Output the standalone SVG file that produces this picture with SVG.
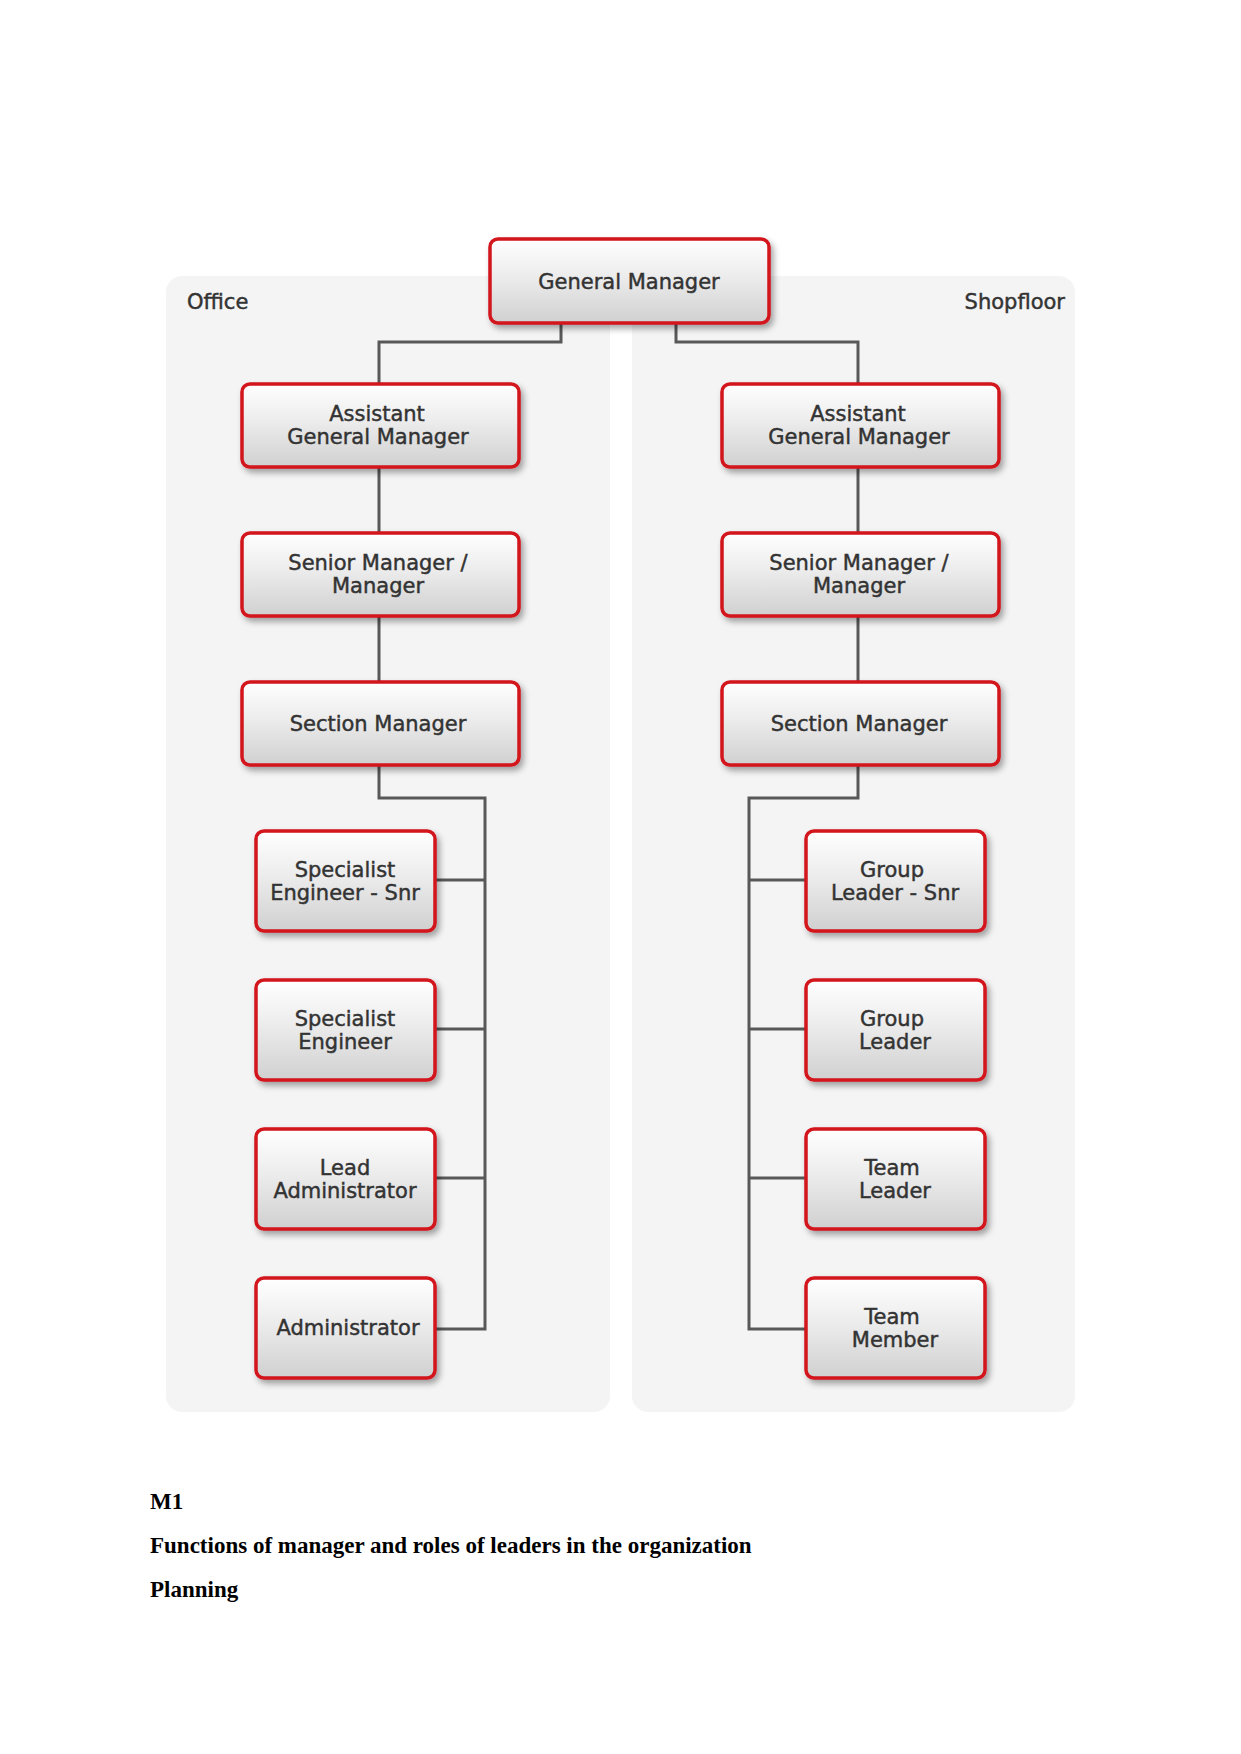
<svg xmlns="http://www.w3.org/2000/svg" width="1241" height="1754" viewBox="0 0 1241 1754">
<defs>
<linearGradient id="boxg" x1="0" y1="0" x2="0" y2="1">
<stop offset="0" stop-color="#ffffff"/>
<stop offset="0.45" stop-color="#ececec"/>
<stop offset="1" stop-color="#d0d0d0"/>
</linearGradient>
<filter id="sh" x="-10%" y="-10%" width="125%" height="130%">
<feDropShadow dx="3" dy="4" stdDeviation="3" flood-color="#000" flood-opacity="0.35"/>
</filter>
</defs>
<style>
.panel{fill:#f4f4f4}
.box{fill:url(#boxg);stroke:#d2141c;stroke-width:3.5;filter:url(#sh)}
.t{font-family:"DejaVu Sans",Verdana,sans-serif;font-size:21px;fill:#333333;stroke:#333333;stroke-width:0.45;text-anchor:middle}
.lbl{font-family:"DejaVu Sans",Verdana,sans-serif;font-size:21px;fill:#333333;stroke:#333333;stroke-width:0.45}
.conn{fill:none;stroke:#585858;stroke-width:3}
.doc{font-family:"Liberation Serif","Times New Roman",serif;font-size:23px;font-weight:bold;fill:#000}
</style>
<rect width="1241" height="1754" fill="#ffffff"/>
<rect class="panel" x="166" y="276" width="444" height="1136" rx="16"/>
<rect class="panel" x="632" y="276" width="443" height="1136" rx="16"/>
<text class="lbl" x="187" y="309">Office</text>
<text class="lbl" x="1065" y="309" text-anchor="end">Shopfloor</text>
<g id="connectors">
<path class="conn" d="M561 323 V342 H379 V384"/>
<path class="conn" d="M676 323 V342 H858 V384"/>
<path class="conn" d="M379 467 V533"/>
<path class="conn" d="M379 616 V682"/>
<path class="conn" d="M858 467 V533"/>
<path class="conn" d="M858 616 V682"/>
<path class="conn" d="M379 765 V798 H485 V1329 H435"/>
<path class="conn" d="M435 880 H485 M435 1029 H485 M435 1178 H485"/>
<path class="conn" d="M858 765 V798 H749 V1329 H806"/>
<path class="conn" d="M749 880 H806 M749 1029 H806 M749 1178 H806"/>
</g>
<g id="gm"><rect class="box" x="490" y="239" width="279" height="84" rx="8"/><text class="t" x="629" y="289">General Manager</text></g>
<g id="office-agm"><rect class="box" x="242" y="384" width="277" height="83" rx="8"/><text class="t" x="377" y="421">Assistant</text><text class="t" x="378" y="444">General Manager</text></g>
<g id="office-senior"><rect class="box" x="242" y="533" width="277" height="83" rx="8"/><text class="t" x="378" y="570">Senior Manager /</text><text class="t" x="378" y="593">Manager</text></g>
<g id="office-section"><rect class="box" x="242" y="682" width="277" height="83" rx="8"/><text class="t" x="378" y="731">Section Manager</text></g>
<g id="shop-agm"><rect class="box" x="722" y="384" width="277" height="83" rx="8"/><text class="t" x="858" y="421">Assistant</text><text class="t" x="859" y="444">General Manager</text></g>
<g id="shop-senior"><rect class="box" x="722" y="533" width="277" height="83" rx="8"/><text class="t" x="859" y="570">Senior Manager /</text><text class="t" x="859" y="593">Manager</text></g>
<g id="shop-section"><rect class="box" x="722" y="682" width="277" height="83" rx="8"/><text class="t" x="859" y="731">Section Manager</text></g>
<g id="spec-snr"><rect class="box" x="256" y="831" width="179" height="100" rx="8"/><text class="t" x="345" y="877">Specialist</text><text class="t" x="345" y="900">Engineer - Snr</text></g>
<g id="spec"><rect class="box" x="256" y="980" width="179" height="100" rx="8"/><text class="t" x="345" y="1026">Specialist</text><text class="t" x="345" y="1049">Engineer</text></g>
<g id="lead-admin"><rect class="box" x="256" y="1129" width="179" height="100" rx="8"/><text class="t" x="345" y="1175">Lead</text><text class="t" x="345" y="1198">Administrator</text></g>
<g id="admin"><rect class="box" x="256" y="1278" width="179" height="100" rx="8"/><text class="t" x="348" y="1335">Administrator</text></g>
<g id="group-snr"><rect class="box" x="806" y="831" width="179" height="100" rx="8"/><text class="t" x="892" y="877">Group</text><text class="t" x="895" y="900">Leader - Snr</text></g>
<g id="group"><rect class="box" x="806" y="980" width="179" height="100" rx="8"/><text class="t" x="892" y="1026">Group</text><text class="t" x="895" y="1049">Leader</text></g>
<g id="team-leader"><rect class="box" x="806" y="1129" width="179" height="100" rx="8"/><text class="t" x="892" y="1175">Team</text><text class="t" x="895" y="1198">Leader</text></g>
<g id="team-member"><rect class="box" x="806" y="1278" width="179" height="100" rx="8"/><text class="t" x="892" y="1324">Team</text><text class="t" x="895" y="1347">Member</text></g>
<text class="doc" x="150" y="1509">M1</text>
<text class="doc" x="150" y="1553">Functions of manager and roles of leaders in the organization</text>
<text class="doc" x="150" y="1597">Planning</text>
</svg>
